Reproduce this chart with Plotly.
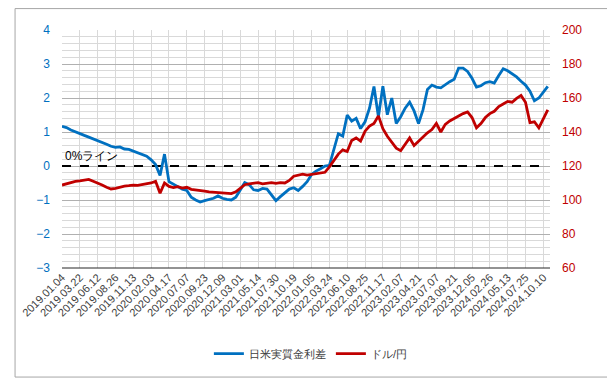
import plotly.graph_objects as go

dates = [
    "2019.01.04", "2019.01.23", "2019.02.12", "2019.03.01",
    "2019.03.22", "2019.04.12", "2019.05.09", "2019.05.22",
    "2019.06.12", "2019.07.01", "2019.07.18", "2019.08.06",
    "2019.08.26", "2019.09.13", "2019.10.03", "2019.10.24",
    "2019.11.13", "2019.12.03", "2019.12.20", "2020.01.14",
    "2020.02.03", "2020.02.21", "2020.03.11", "2020.03.30",
    "2020.04.17", "2020.05.12", "2020.05.29", "2020.06.17",
    "2020.07.07", "2020.07.27", "2020.08.14", "2020.09.03",
    "2020.09.23", "2020.10.13", "2020.10.30", "2020.11.19",
    "2020.12.09", "2020.12.28", "2021.01.21", "2021.02.09",
    "2021.03.01", "2021.03.18", "2021.04.07", "2021.04.23",
    "2021.05.14", "2021.06.02", "2021.06.21", "2021.07.09",
    "2021.07.30", "2021.08.19", "2021.09.07", "2021.09.28",
    "2021.10.19", "2021.11.08", "2021.11.26", "2021.12.15",
    "2022.01.05", "2022.01.25", "2022.02.14", "2022.03.04",
    "2022.03.24", "2022.04.13", "2022.05.06", "2022.05.24",
    "2022.06.10", "2022.06.29", "2022.07.19", "2022.08.05",
    "2022.08.25", "2022.09.14", "2022.10.06", "2022.10.27",
    "2022.11.17", "2022.12.07", "2022.12.26", "2023.01.18",
    "2023.02.07", "2023.02.27", "2023.03.15", "2023.04.03",
    "2023.04.21", "2023.05.16", "2023.06.02", "2023.06.21",
    "2023.07.07", "2023.07.28", "2023.08.16", "2023.09.01",
    "2023.09.21", "2023.10.12", "2023.10.31", "2023.11.17",
    "2023.12.05", "2023.12.25", "2024.01.19", "2024.02.07",
    "2024.02.26", "2024.03.14", "2024.04.03", "2024.04.22",
    "2024.05.13", "2024.05.30", "2024.06.18", "2024.07.05",
    "2024.07.25", "2024.08.14", "2024.09.03", "2024.09.20",
    "2024.10.10", "2024.10.29",
]

tick_labels = [
    "2019.01.04", "2019.03.22", "2019.06.12", "2019.08.26", "2019.11.13",
    "2020.02.03", "2020.04.17", "2020.07.07", "2020.09.23", "2020.12.09",
    "2021.03.01", "2021.05.14", "2021.07.30", "2021.10.19", "2022.01.05",
    "2022.03.24", "2022.06.10", "2022.08.25", "2022.11.17", "2023.02.07",
    "2023.04.21", "2023.07.07", "2023.09.21", "2023.12.05", "2024.02.26",
    "2024.05.13", "2024.07.25", "2024.10.10",
]

rate_diff = [
    1.17, 1.13, 1.06, 1.00, 0.95, 0.90, 0.85, 0.80, 0.76, 0.71,
    0.64, 0.58, 0.55, 0.56, 0.50, 0.49, 0.44, 0.40, 0.34, 0.29,
    0.18, 0.04, -0.28, 0.35, -0.46, -0.54, -0.60, -0.68, -0.72, -0.92,
    -1.00, -1.06, -1.02, -0.98, -0.95, -0.88, -0.95, -0.98, -1.00, -0.92,
    -0.72, -0.49, -0.55, -0.70, -0.72, -0.66, -0.68, -0.85, -1.02, -0.90,
    -0.78, -0.68, -0.64, -0.72, -0.60, -0.46, -0.25, -0.15, -0.08, 0.00,
    0.02, 0.45, 0.95, 0.88, 1.50, 1.32, 1.40, 1.10, 1.30, 1.70,
    2.34, 1.45, 2.35, 1.51, 2.00, 1.25, 1.45, 1.70, 1.88, 1.62,
    1.25, 1.65, 2.25, 2.38, 2.32, 2.30, 2.40, 2.48, 2.55, 2.88,
    2.88, 2.78, 2.58, 2.32, 2.36, 2.45, 2.48, 2.44, 2.66, 2.86,
    2.80, 2.70, 2.62, 2.49, 2.38, 2.20, 1.92, 2.00, 2.18, 2.34,
]

usdjpy = [
    108.8, 109.5, 110.5, 111.0, 111.2, 111.8, 112.1, 111.0, 110.0, 108.8,
    107.5, 106.5, 106.8, 107.5, 108.2, 108.4, 108.8, 108.6, 109.0, 109.2,
    110.0, 111.0, 104.0, 110.0, 108.0, 107.3, 107.8, 107.0, 107.5, 106.3,
    105.8, 105.5, 105.2, 104.8, 104.6, 104.2, 104.0, 103.6, 103.8, 104.8,
    106.8, 109.0, 109.5, 109.8, 110.2, 109.5, 110.0, 110.2, 109.8, 110.2,
    110.0, 111.5, 114.0, 114.5, 115.2, 114.6, 115.0, 115.6, 116.0, 116.3,
    119.5, 123.5, 127.0, 129.5, 128.5, 135.0, 136.5, 134.6, 140.5, 143.5,
    145.0, 149.5, 142.0, 137.5, 134.0, 130.5, 129.0, 132.5, 136.5, 132.0,
    134.5, 137.5, 139.5, 141.4, 145.0, 140.0, 144.5, 146.5, 148.0, 149.5,
    150.8, 151.8, 148.5, 142.5, 145.0, 148.5, 150.8, 152.2, 155.0, 156.5,
    158.0, 157.5, 159.8, 161.5, 157.5, 145.5, 146.0, 142.4, 148.0, 153.0,
]

zero_line = [0] * len(dates)

BLUE = "#0070C0"
RED = "#C00000"
FONT = "Liberation Sans, Arial, sans-serif"

fig = go.Figure()
fig.add_trace(go.Scatter(
    x=dates, y=zero_line, mode="lines", showlegend=False, hoverinfo="skip",
    line=dict(color="black", width=2, dash="dash"),
))
fig.add_trace(go.Scatter(
    x=dates, y=rate_diff, name="日米実質金利差", mode="lines",
    line=dict(color=BLUE, width=2.8),
))
fig.add_trace(go.Scatter(
    x=dates, y=usdjpy, name="ドル/円", mode="lines", yaxis="y2",
    line=dict(color=RED, width=2.8),
))

fig.add_annotation(
    x=0.003, xref="paper", y=0, yref="y", text="0%ライン", showarrow=False,
    xanchor="left", yanchor="bottom", yshift=1,
    font=dict(size=12, color="black", family=FONT),
)

# page body has an 8px default margin; size the figure to compensate
fig.update_layout(
    width=607, height=372,
    margin=dict(l=48, r=65, t=22, b=111),
    paper_bgcolor="white", plot_bgcolor="white",
    font=dict(family=FONT, size=11, color="#404040"),
    xaxis=dict(
        type="category",
        tickmode="array", tickvals=tick_labels, ticktext=tick_labels,
        tickangle=-45, range=[0, len(dates) - 0.5],
        showgrid=True, gridcolor="#d9d9d9", gridwidth=1,
        showline=False,
        ticks="", tickfont=dict(size=11, color="#404040"),
        zeroline=False,
    ),
    yaxis=dict(
        range=[-3, 4], dtick=1, tick0=0,
        showgrid=True, gridcolor="#b0b0b0", gridwidth=1,
        minor=dict(dtick=0.2, showgrid=True, gridcolor="#d9d9d9", gridwidth=1),
        zeroline=False, showline=False,
        tickfont=dict(size=12, color=BLUE), ticks="",
        ticklabelstandoff=11,
    ),
    yaxis2=dict(
        range=[60, 200], dtick=20, overlaying="y", side="right",
        showgrid=False, zeroline=False, showline=False,
        tickfont=dict(size=12, color=RED), ticks="",
        ticklabelstandoff=11,
    ),
    legend=dict(
        orientation="h", x=0.51, xanchor="center", y=-0.36, yanchor="middle",
        font=dict(size=11, color="#404040"),
    ),
    shapes=[
        dict(type="line", xref="paper", yref="paper", x0=0, x1=1, y0=0, y1=0,
             line=dict(color="#262626", width=1)),
        dict(type="rect", xref="paper", yref="paper", x0=-0.0962, x1=1.1285,
             y0=-0.4582, y1=1.0900, line=dict(color="#a6a6a6", width=1)),
    ],
)

fig.write_html("out.html")
